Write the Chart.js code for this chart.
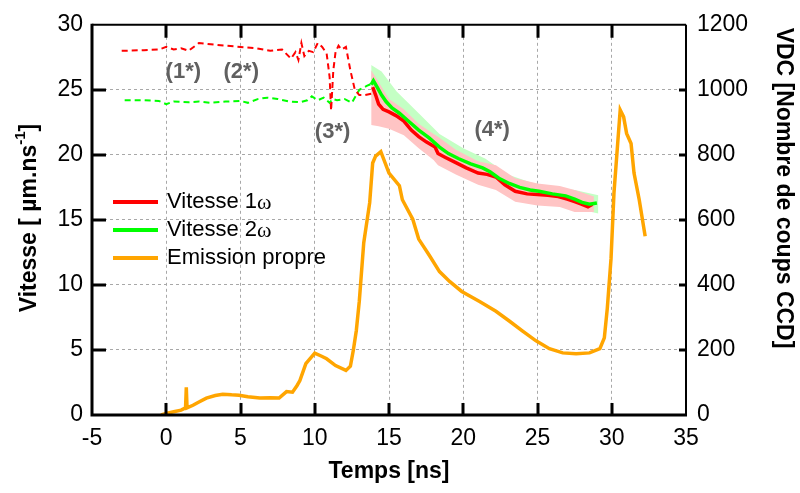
<!DOCTYPE html>
<html>
<head>
<meta charset="utf-8">
<script src="https://cdn.jsdelivr.net/npm/chart.js@4"></script>
<style>
  body { margin: 0; background: #fff; }
</style>
</head>
<body>
<canvas id="graphe" width="800" height="493"></canvas>
<script>
// Vitesse 1w (trait plein) et sa bande d'incertitude
const tempsV1 = [13.9, 14.1, 14.3, 14.6, 15.0, 15.5, 16.0, 16.5, 17.0, 17.5, 18.1, 18.3, 18.8, 19.5, 20.2, 21.0, 21.6, 22.2, 22.8, 23.5, 24.3, 25.0, 25.7, 26.4, 27.0, 27.5, 28.0, 28.4, 28.7];
const vitesse1 = [25.2, 24.6, 23.9, 23.5, 23.3, 23.0, 22.6, 21.9, 21.4, 21.0, 20.6, 20.1, 19.8, 19.4, 19.0, 18.6, 18.5, 18.3, 17.7, 17.2, 17.0, 16.95, 16.9, 16.8, 16.6, 16.4, 16.2, 16.0, 16.2];
const tempsBande1 = [13.8, 14.3, 15.0, 16.0, 17.0, 18.0, 18.3, 19.5, 21.0, 22.2, 23.5, 25.0, 26.5, 27.5, 28.8];
const bande1Haut = [26.5, 25.6, 24.3, 23.5, 22.4, 21.6, 21.4, 20.4, 19.5, 19.2, 18.2, 17.8, 17.6, 17.3, 16.8];
const bande1Bas = [22.3, 22.2, 22.0, 21.5, 20.5, 19.6, 19.2, 18.5, 17.7, 17.3, 16.4, 16.1, 16.0, 15.6, 15.6];

// Vitesse 2w (trait plein) et sa bande
const tempsV2 = [13.8, 13.95, 14.2, 14.5, 14.8, 15.2, 15.7, 16.3, 17.0, 17.7, 18.4, 19.0, 19.7, 20.5, 21.3, 21.8, 22.4, 23.1, 23.8, 24.5, 25.1, 26.0, 26.9, 27.5, 28.0, 28.5, 29.0];
const vitesse2 = [25.4, 25.7, 25.2, 24.6, 24.1, 23.6, 23.2, 22.6, 21.9, 21.3, 20.6, 20.1, 19.7, 19.3, 19.0, 18.7, 18.2, 17.8, 17.5, 17.3, 17.2, 17.0, 16.85, 16.6, 16.35, 16.2, 16.3];
const tempsBande2 = [13.8, 14.5, 15.5, 17.0, 18.4, 20.0, 21.5, 23.0, 24.5, 26.0, 27.5, 29.1];
const bande2Haut = [26.9, 26.4, 24.9, 23.2, 21.6, 20.5, 19.7, 18.5, 17.9, 17.5, 17.3, 16.9];
const bande2Bas = [24.5, 23.6, 22.4, 21.0, 19.8, 18.9, 18.1, 17.2, 16.5, 16.2, 15.9, 15.5];

// debut des mesures (tirets)
const tempsD1 = [-3.0, -1.5, -0.5, 0.0, 0.5, 1.0, 1.5, 2.2, 3.0, 4.0, 5.0, 6.0, 7.0, 7.8, 8.4, 8.7, 8.9, 9.1, 9.3, 9.6, 9.9, 10.2, 10.5, 10.8, 11.0, 11.1, 11.25, 11.4, 11.6, 11.8, 12.1, 12.4, 12.7, 13.0, 13.4, 13.8];
const vitesseD1 = [28.0, 28.05, 28.1, 28.3, 28.1, 28.2, 28.0, 28.6, 28.5, 28.4, 28.3, 28.2, 28.0, 28.1, 27.4, 27.9, 27.3, 28.6, 27.6, 28.0, 27.9, 28.6, 28.3, 27.8, 26.0, 23.4, 26.5, 27.9, 28.4, 28.1, 28.3, 26.5, 25.0, 24.6, 24.6, 24.7];
const tempsD2 = [-2.8, -1.5, -0.5, 0.0, 0.5, 1.5, 2.2, 3.0, 4.0, 5.0, 5.5, 6.2, 6.8, 7.5, 8.3, 9.0, 9.5, 9.8, 10.2, 10.6, 11.0, 11.2, 11.5, 12.0, 12.5, 13.0, 13.5, 13.9];
const vitesseD2 = [24.2, 24.2, 24.15, 23.9, 24.1, 24.05, 24.1, 24.0, 24.1, 24.15, 24.0, 24.3, 24.4, 24.3, 24.1, 24.05, 24.2, 24.5, 24.2, 24.4, 24.0, 24.3, 24.2, 24.3, 24.0, 25.0, 25.3, 25.5];

// emission propre (axe de droite)
const tempsEmi = [-0.35, 0.0, 0.5, 1.0, 1.3, 1.35, 1.4, 1.8, 2.2, 2.7, 3.3, 3.8, 4.4, 4.9, 5.5, 6.3, 7.0, 7.6, 8.1, 8.5, 8.8, 9.0, 9.4, 10.0, 10.5, 10.8, 11.4, 12.1, 12.4, 12.6, 12.8, 13.0, 13.3, 13.7, 13.9, 14.1, 14.45, 15.0, 15.7, 15.9, 16.6, 17.0, 17.7, 18.4, 19.1, 19.9, 21.1, 22.2, 23.1, 24.0, 24.9, 25.8, 26.7, 27.6, 28.5, 29.2, 29.5, 29.7, 29.95, 30.15, 30.4, 30.57, 30.8, 31.0, 31.3, 31.5, 31.85, 32.25];
const emission = [0, 5, 10, 15, 22, 85, 22, 30, 40, 52, 60, 64, 62, 61, 56, 52, 53, 52, 72, 70, 90, 106, 158, 190, 180, 173, 152, 137, 150, 200, 260, 350, 530, 653, 775, 796, 810, 744, 705, 662, 602, 541, 492, 441, 410, 380, 349, 319, 289, 258, 228, 204, 191, 188, 191, 204, 237, 328, 480, 683, 835, 938, 917, 866, 835, 744, 662, 550];

// graduations
const graduationsX = [-5, 0, 5, 10, 15, 20, 25, 30, 35];
const graduationsV = [0, 5, 10, 15, 20, 25, 30];
const graduationsVDC = [0, 200, 400, 600, 800, 1000, 1200];

// reperes (1*)...(4*)
const reperes = ['(1*)', '(2*)', '(3*)', '(4*)'];
const reperesX = [1.15, 5.05, 11.2, 21.95];
const reperesY = [26.35, 26.35, 21.8, 21.9];

const police = "'Liberation Sans', Arial, sans-serif";

function points(xs, ys) {
  return xs.map((x, i) => ({ x: x, y: ys[i] }));
}

const cadre = {
  id: 'cadre',
  afterDraw(chart) {
    const ctx = chart.ctx;
    const a = chart.chartArea;
    const sx = chart.scales.x, sy = chart.scales.y;
    ctx.save();
    ctx.strokeStyle = '#000';
    ctx.lineCap = 'butt';

    // bords
    ctx.lineWidth = 2;
    ctx.beginPath();
    ctx.moveTo(a.left, a.top); ctx.lineTo(a.right, a.top);
    ctx.moveTo(a.right, a.top); ctx.lineTo(a.right, a.bottom);
    ctx.stroke();
    ctx.lineWidth = 3;
    ctx.beginPath();
    ctx.moveTo(a.left, a.top - 1); ctx.lineTo(a.left, a.bottom);
    ctx.lineTo(a.right + 1, a.bottom);
    ctx.stroke();

    // graduations vers l'interieur
    ctx.lineWidth = 3;
    ctx.beginPath();
    graduationsX.slice(1, -1).forEach(v => {
      const px = Math.round(sx.getPixelForValue(v));
      ctx.moveTo(px, a.bottom); ctx.lineTo(px, a.bottom - 12);
      ctx.moveTo(px, a.top); ctx.lineTo(px, a.top + 13);
    });
    graduationsV.slice(1, -1).forEach(v => {
      const py = Math.round(sy.getPixelForValue(v));
      ctx.moveTo(a.left, py); ctx.lineTo(a.left + 14, py);
      ctx.moveTo(a.right, py); ctx.lineTo(a.right - 7, py);
    });
    ctx.stroke();

    // reperes
    ctx.fillStyle = '#606060';
    ctx.font = 'bold 22px ' + police;
    ctx.textAlign = 'center';
    ctx.textBaseline = 'middle';
    reperes.forEach((r, i) => {
      ctx.fillText(r, sx.getPixelForValue(reperesX[i]), sy.getPixelForValue(reperesY[i]));
    });

    // legende
    const items = chart.data.datasets.filter(d => d.legende).sort((p, q) => p.legende - q.legende);
    items.forEach((d, i) => {
      const y = 202 + i * 28;
      ctx.strokeStyle = d.borderColor;
      ctx.lineWidth = 4;
      ctx.beginPath();
      ctx.moveTo(113, y); ctx.lineTo(158, y);
      ctx.stroke();
      ctx.fillStyle = '#000';
      ctx.textAlign = 'left';
      let txt = d.label;
      let x = 167;
      if (txt.endsWith('ω')) {
        txt = txt.slice(0, -1);
        ctx.font = '22px ' + police;
        ctx.fillText(txt, x, y);
        x += ctx.measureText(txt).width;
        ctx.font = "22px 'Liberation Serif', serif";
        ctx.fillText('ω', x, y + 1);
      } else {
        ctx.font = '22px ' + police;
        ctx.fillText(txt, x, y);
      }
    });

    // titres des axes
    ctx.fillStyle = '#000';
    ctx.textBaseline = 'middle';
    ctx.font = 'bold 23px ' + police;
    ctx.textAlign = 'center';
    ctx.fillText('Temps [ns]', (a.left + a.right) / 2, 472);

    ctx.save();
    ctx.translate(783, 188);
    ctx.rotate(Math.PI / 2);
    ctx.fillText('VDC [Nombre de coups CCD]', 0, 0);
    ctx.restore();

    ctx.save();
    ctx.translate(30, 218);
    ctx.rotate(-Math.PI / 2);
    const f1 = 'bold 23px ' + police, f2 = 'bold 15px ' + police;
    const p1 = 'Vitesse [ µm.ns', p2 = '-1', p3 = ']';
    ctx.font = f1; const w1 = ctx.measureText(p1).width, w3 = ctx.measureText(p3).width;
    ctx.font = f2; const w2 = ctx.measureText(p2).width;
    let x0 = -(w1 + w2 + w3) / 2;
    ctx.textAlign = 'left';
    ctx.font = f1; ctx.fillText(p1, x0, 0);
    ctx.font = f2; ctx.fillText(p2, x0 + w1, -9);
    ctx.font = f1; ctx.fillText(p3, x0 + w1 + w2, 0);
    ctx.restore();

    ctx.restore();
  }
};

function ligne(label, xs, ys, couleur, largeur, extra) {
  return Object.assign({
    label: label,
    data: points(xs, ys),
    borderColor: couleur,
    backgroundColor: couleur,
    borderWidth: largeur,
    pointRadius: 0,
    tension: 0,
    fill: false,
    yAxisID: 'y'
  }, extra || {});
}

const datasets = [
  ligne('Emission propre', tempsEmi, emission, '#ffa500', 3.5, { yAxisID: 'y1', order: 0, legende: 3 }),
  ligne('Vitesse 2ω', tempsV2, vitesse2, '#00ff00', 3.5, { order: 1, legende: 2 }),
  ligne('Vitesse 1ω', tempsV1, vitesse1, '#ff0000', 3.5, { order: 2, legende: 1 }),
  ligne('debut 1', tempsD1, vitesseD1, '#ff0000', 2, { order: 3, borderDash: [6, 4] }),
  ligne('debut 2', tempsD2, vitesseD2, '#00ff00', 2, { order: 3, borderDash: [6, 4] }),
  ligne('bande 1 haut', tempsBande1, bande1Haut, 'rgba(0,0,0,0)', 0, { order: 5, fill: 6, backgroundColor: '#ffc4c4' }),
  ligne('bande 1 bas', tempsBande1, bande1Bas, 'rgba(0,0,0,0)', 0, { order: 5 }),
  ligne('bande 2 haut', tempsBande2, bande2Haut, 'rgba(0,0,0,0)', 0, { order: 6, fill: 8, backgroundColor: '#c4ffc4' }),
  ligne('bande 2 bas', tempsBande2, bande2Bas, 'rgba(0,0,0,0)', 0, { order: 6 })
];

new Chart(document.getElementById('graphe'), {
  type: 'line',
  data: { datasets: datasets },
  options: {
    responsive: false,
    animation: false,
    layout: { padding: { top: 20 } },
    plugins: { legend: { display: false }, tooltip: { enabled: false } },
    scales: {
      x: {
        type: 'linear', min: -5, max: 35,
        afterFit: s => { s.height = 78; },
        afterBuildTicks: s => { s.ticks = graduationsX.map(v => ({ value: v })); },
        ticks: { color: '#000', font: { family: police, size: 23 }, padding: 10, maxRotation: 0, callback: v => String(v) },
        grid: { color: '#a8a8a8', lineWidth: 1, drawTicks: false },
        border: { display: false, dash: [3, 3] }
      },
      y: {
        position: 'left', min: 0, max: 30,
        afterFit: s => { s.width = 92; },
        afterBuildTicks: s => { s.ticks = graduationsV.map(v => ({ value: v })); },
        ticks: { color: '#000', font: { family: police, size: 23 }, padding: 9, callback: v => String(v) },
        grid: { color: '#a8a8a8', lineWidth: 1, drawTicks: false },
        border: { display: false, dash: [3, 3] }
      },
      y1: {
        position: 'right', min: 0, max: 1200,
        afterFit: s => { s.width = 114; },
        afterBuildTicks: s => { s.ticks = graduationsVDC.map(v => ({ value: v })); },
        ticks: { color: '#000', font: { family: police, size: 23 }, padding: 11, callback: v => String(v) },
        grid: { display: false, drawTicks: false },
        border: { display: false }
      }
    }
  },
  plugins: [cadre]
});
</script>
</body>
</html>
